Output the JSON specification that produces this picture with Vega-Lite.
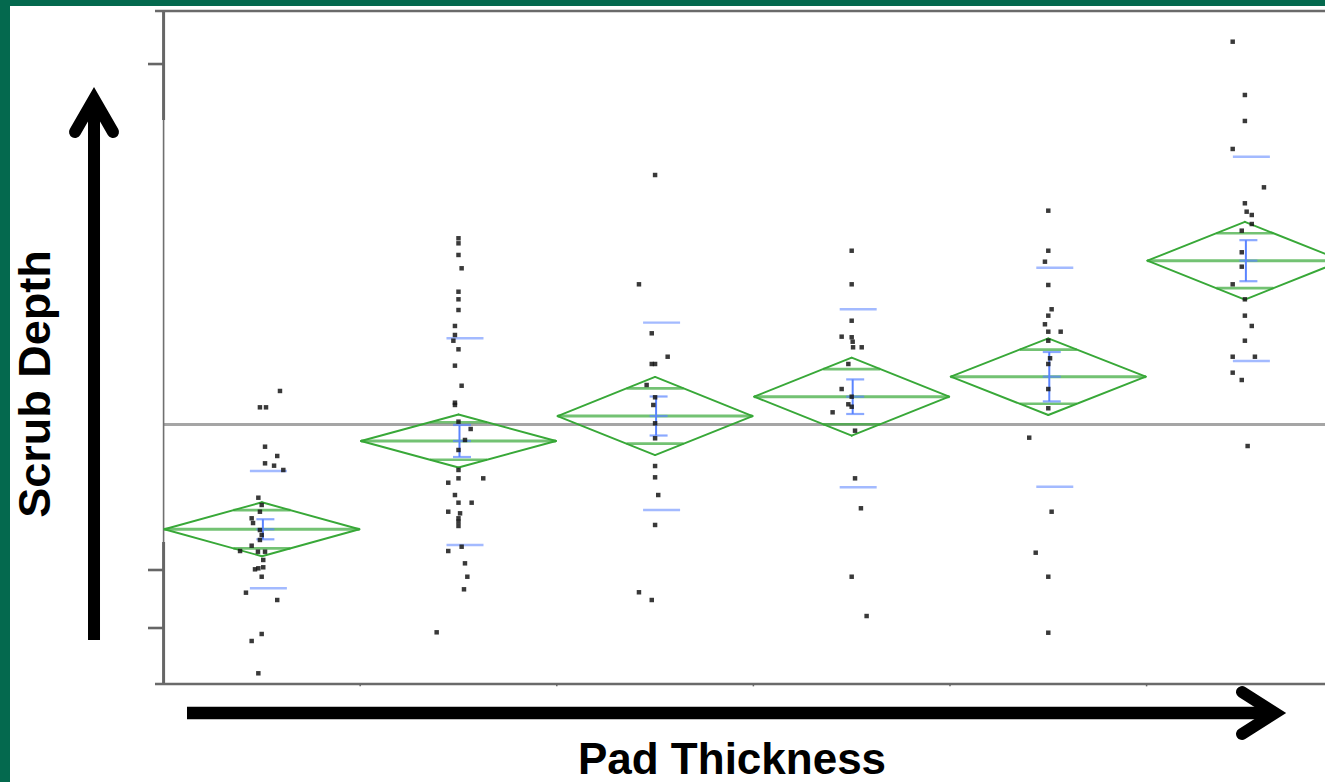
{
  "$schema": "https://vega.github.io/schema/vega-lite/v6.json",
  "width": 1315,
  "height": 776,
  "padding": {"left": 10, "top": 6, "right": 0, "bottom": 0},
  "autosize": {"type": "none"},
  "background": "#04694e",
  "config": {
    "view": {"stroke": null, "fill": "white"},
    "axis": {"disable": true},
    "legend": {"disable": true}
  },
  "datasets": {
    "obs": [
      {"pad": 1, "pos": 1.092, "depth": 43.54}, {"pad": 1, "pos": 0.990, "depth": 41.11}, {"pad": 1, "pos": 1.021, "depth": 41.11},
      {"pad": 1, "pos": 1.016, "depth": 35.26}, {"pad": 1, "pos": 1.078, "depth": 33.88}, {"pad": 1, "pos": 1.016, "depth": 32.79},
      {"pad": 1, "pos": 1.062, "depth": 32.44}, {"pad": 1, "pos": 1.109, "depth": 31.80}, {"pad": 1, "pos": 0.982, "depth": 27.68},
      {"pad": 1, "pos": 0.999, "depth": 26.60}, {"pad": 1, "pos": 0.990, "depth": 25.60}, {"pad": 1, "pos": 0.948, "depth": 24.62},
      {"pad": 1, "pos": 0.955, "depth": 23.92}, {"pad": 1, "pos": 0.990, "depth": 22.88}, {"pad": 1, "pos": 0.999, "depth": 22.14},
      {"pad": 1, "pos": 0.990, "depth": 21.40}, {"pad": 1, "pos": 0.948, "depth": 20.55}, {"pad": 1, "pos": 0.889, "depth": 19.76},
      {"pad": 1, "pos": 0.980, "depth": 19.66}, {"pad": 1, "pos": 1.016, "depth": 19.66}, {"pad": 1, "pos": 1.007, "depth": 18.43},
      {"pad": 1, "pos": 0.982, "depth": 17.19}, {"pad": 1, "pos": 1.007, "depth": 17.34}, {"pad": 1, "pos": 0.965, "depth": 17.04},
      {"pad": 1, "pos": 0.999, "depth": 15.94}, {"pad": 1, "pos": 0.919, "depth": 13.57}, {"pad": 1, "pos": 1.078, "depth": 12.48},
      {"pad": 1, "pos": 0.999, "depth": 7.43}, {"pad": 1, "pos": 0.948, "depth": 6.39}, {"pad": 1, "pos": 0.982, "depth": 1.59},

      {"pad": 2, "pos": 2.000, "depth": 66.23}, {"pad": 2, "pos": 2.000, "depth": 65.48}, {"pad": 2, "pos": 2.000, "depth": 63.75},
      {"pad": 2, "pos": 2.016, "depth": 61.77}, {"pad": 2, "pos": 2.000, "depth": 58.29}, {"pad": 2, "pos": 2.000, "depth": 57.16},
      {"pad": 2, "pos": 2.000, "depth": 55.57}, {"pad": 2, "pos": 1.982, "depth": 53.20}, {"pad": 2, "pos": 1.982, "depth": 51.86},
      {"pad": 2, "pos": 1.974, "depth": 51.01}, {"pad": 2, "pos": 2.000, "depth": 49.73}, {"pad": 2, "pos": 1.982, "depth": 47.30},
      {"pad": 2, "pos": 2.016, "depth": 44.32}, {"pad": 2, "pos": 1.982, "depth": 41.80}, {"pad": 2, "pos": 1.982, "depth": 41.46},
      {"pad": 2, "pos": 2.000, "depth": 38.98}, {"pad": 2, "pos": 2.062, "depth": 37.89}, {"pad": 2, "pos": 2.033, "depth": 36.26},
      {"pad": 2, "pos": 2.000, "depth": 34.77}, {"pad": 2, "pos": 2.000, "depth": 31.80}, {"pad": 2, "pos": 2.000, "depth": 30.56},
      {"pad": 2, "pos": 2.126, "depth": 30.56}, {"pad": 2, "pos": 1.948, "depth": 29.91}, {"pad": 2, "pos": 1.982, "depth": 28.08},
      {"pad": 2, "pos": 2.000, "depth": 26.94}, {"pad": 2, "pos": 2.067, "depth": 26.94}, {"pad": 2, "pos": 1.948, "depth": 25.60},
      {"pad": 2, "pos": 2.008, "depth": 25.36}, {"pad": 2, "pos": 2.000, "depth": 24.62}, {"pad": 2, "pos": 2.000, "depth": 24.12},
      {"pad": 2, "pos": 2.000, "depth": 23.48}, {"pad": 2, "pos": 1.948, "depth": 19.76}, {"pad": 2, "pos": 2.016, "depth": 20.40},
      {"pad": 2, "pos": 2.033, "depth": 17.93}, {"pad": 2, "pos": 2.045, "depth": 15.94}, {"pad": 2, "pos": 2.028, "depth": 14.07},
      {"pad": 2, "pos": 1.889, "depth": 7.68},

      {"pad": 3, "pos": 3.000, "depth": 75.63}, {"pad": 3, "pos": 2.918, "depth": 59.39}, {"pad": 3, "pos": 2.983, "depth": 52.11},
      {"pad": 3, "pos": 3.064, "depth": 48.63}, {"pad": 3, "pos": 2.983, "depth": 47.55}, {"pad": 3, "pos": 3.000, "depth": 47.55},
      {"pad": 3, "pos": 2.957, "depth": 44.43}, {"pad": 3, "pos": 3.000, "depth": 42.60}, {"pad": 3, "pos": 2.991, "depth": 41.46},
      {"pad": 3, "pos": 3.000, "depth": 38.74}, {"pad": 3, "pos": 3.000, "depth": 36.51}, {"pad": 3, "pos": 3.000, "depth": 32.39},
      {"pad": 3, "pos": 3.000, "depth": 30.71}, {"pad": 3, "pos": 3.016, "depth": 28.08}, {"pad": 3, "pos": 3.000, "depth": 23.63},
      {"pad": 3, "pos": 2.918, "depth": 13.63}, {"pad": 3, "pos": 2.983, "depth": 12.48},

      {"pad": 4, "pos": 4.000, "depth": 64.38}, {"pad": 4, "pos": 4.000, "depth": 59.39}, {"pad": 4, "pos": 4.000, "depth": 53.98},
      {"pad": 4, "pos": 3.949, "depth": 51.61}, {"pad": 4, "pos": 4.000, "depth": 51.52}, {"pad": 4, "pos": 4.005, "depth": 50.86},
      {"pad": 4, "pos": 4.007, "depth": 50.03}, {"pad": 4, "pos": 4.051, "depth": 50.03}, {"pad": 4, "pos": 3.983, "depth": 47.55},
      {"pad": 4, "pos": 3.949, "depth": 43.83}, {"pad": 4, "pos": 4.000, "depth": 42.69}, {"pad": 4, "pos": 3.983, "depth": 41.56},
      {"pad": 4, "pos": 4.000, "depth": 41.20}, {"pad": 4, "pos": 3.903, "depth": 40.37}, {"pad": 4, "pos": 4.017, "depth": 37.64},
      {"pad": 4, "pos": 4.017, "depth": 30.56}, {"pad": 4, "pos": 4.047, "depth": 26.11}, {"pad": 4, "pos": 4.000, "depth": 15.94},
      {"pad": 4, "pos": 4.076, "depth": 10.10},

      {"pad": 5, "pos": 5.000, "depth": 70.33}, {"pad": 5, "pos": 5.000, "depth": 64.38}, {"pad": 5, "pos": 4.983, "depth": 62.75},
      {"pad": 5, "pos": 5.000, "depth": 59.29}, {"pad": 5, "pos": 5.017, "depth": 55.68}, {"pad": 5, "pos": 5.000, "depth": 54.73},
      {"pad": 5, "pos": 4.983, "depth": 53.45}, {"pad": 5, "pos": 5.000, "depth": 52.35}, {"pad": 5, "pos": 5.063, "depth": 52.35},
      {"pad": 5, "pos": 5.000, "depth": 51.01}, {"pad": 5, "pos": 5.009, "depth": 48.40}, {"pad": 5, "pos": 5.000, "depth": 47.55},
      {"pad": 5, "pos": 5.000, "depth": 43.83}, {"pad": 5, "pos": 5.000, "depth": 40.97}, {"pad": 5, "pos": 4.903, "depth": 36.60},
      {"pad": 5, "pos": 5.017, "depth": 25.60}, {"pad": 5, "pos": 4.936, "depth": 19.51}, {"pad": 5, "pos": 5.000, "depth": 15.94},
      {"pad": 5, "pos": 5.000, "depth": 7.62},

      {"pad": 6, "pos": 5.938, "depth": 95.44}, {"pad": 6, "pos": 6.000, "depth": 87.52}, {"pad": 6, "pos": 6.000, "depth": 83.66},
      {"pad": 6, "pos": 5.938, "depth": 79.50}, {"pad": 6, "pos": 6.097, "depth": 73.80}, {"pad": 6, "pos": 6.000, "depth": 71.43},
      {"pad": 6, "pos": 6.009, "depth": 70.18}, {"pad": 6, "pos": 6.035, "depth": 69.69}, {"pad": 6, "pos": 6.035, "depth": 68.35},
      {"pad": 6, "pos": 5.984, "depth": 67.36}, {"pad": 6, "pos": 5.984, "depth": 64.15}, {"pad": 6, "pos": 5.984, "depth": 62.01},
      {"pad": 6, "pos": 5.938, "depth": 59.39}, {"pad": 6, "pos": 6.000, "depth": 57.16}, {"pad": 6, "pos": 6.000, "depth": 54.73},
      {"pad": 6, "pos": 6.035, "depth": 53.20}, {"pad": 6, "pos": 6.000, "depth": 51.01}, {"pad": 6, "pos": 5.938, "depth": 48.63},
      {"pad": 6, "pos": 6.051, "depth": 48.63}, {"pad": 6, "pos": 5.938, "depth": 46.26}, {"pad": 6, "pos": 5.984, "depth": 45.17},
      {"pad": 6, "pos": 6.014, "depth": 35.36}
    ],
    "summary": [
      {"pad": 1, "mean": 22.99, "lcl": 18.98, "ucl": 27.00, "ovl_lo": 20.15, "ovl_hi": 25.83, "se_lo": 21.50, "se_hi": 24.48, "sd_lo": 14.22, "sd_hi": 31.65},
      {"pad": 2, "mean": 36.11, "lcl": 32.17, "ucl": 40.05, "ovl_lo": 33.33, "ovl_hi": 38.89, "se_lo": 33.73, "se_hi": 38.49, "sd_lo": 20.65, "sd_hi": 51.37},
      {"pad": 3, "mean": 39.82, "lcl": 34.02, "ucl": 45.62, "ovl_lo": 35.72, "ovl_hi": 43.92, "se_lo": 36.92, "se_hi": 42.72, "sd_lo": 25.85, "sd_hi": 53.69},
      {"pad": 4, "mean": 42.69, "lcl": 36.89, "ucl": 48.49, "ovl_lo": 38.59, "ovl_hi": 46.79, "se_lo": 40.12, "se_hi": 45.26, "sd_lo": 29.23, "sd_hi": 55.68},
      {"pad": 5, "mean": 45.66, "lcl": 39.97, "ucl": 51.35, "ovl_lo": 41.64, "ovl_hi": 49.68, "se_lo": 41.99, "se_hi": 49.33, "sd_lo": 29.32, "sd_hi": 61.86},
      {"pad": 6, "mean": 62.90, "lcl": 57.13, "ucl": 68.67, "ovl_lo": 58.82, "ovl_hi": 66.98, "se_lo": 59.85, "se_hi": 65.95, "sd_lo": 47.99, "sd_hi": 78.35}
    ],
    "yticks": [{"t": 92.12}, {"t": 16.94}, {"t": 8.32}],
    "levelBreaks": [{"b": 1.5}, {"b": 2.5}, {"b": 3.5}, {"b": 4.5}, {"b": 5.5}]
  },
  "layer": [
    {
      "description": "grand mean across all pads",
      "data": {"values": [{}]},
      "mark": {"type": "rule", "stroke": "#a5a5a5", "strokeWidth": 3},
      "encoding": {
        "x": {"datum": 0.5, "type": "quantitative", "scale": {"domain": [-0.2812, 6.4075], "nice": false, "zero": false}},
        "x2": {"datum": 6.5},
        "y": {"datum": 38.56, "type": "quantitative", "scale": {"domain": [-14.562, 100.743], "nice": false, "zero": false}}
      }
    },
    {
      "data": {"values": [{}]},
      "mark": {"type": "rule", "stroke": "#707070", "strokeWidth": 1.6},
      "encoding": {"x": {"datum": 0.5, "type": "quantitative"}, "y": {"datum": 0, "type": "quantitative"}, "y2": {"datum": 100}}
    },
    {
      "data": {"values": [{}]},
      "mark": {"type": "rule", "stroke": "#666666", "strokeWidth": 3},
      "encoding": {"x": {"datum": 0.5, "type": "quantitative"}, "y": {"datum": 83.8, "type": "quantitative"}, "y2": {"datum": 100}}
    },
    {
      "data": {"values": [{}]},
      "mark": {"type": "rule", "stroke": "#666666", "strokeWidth": 3},
      "encoding": {"x": {"datum": 0.5, "type": "quantitative"}, "y": {"datum": 0, "type": "quantitative"}, "y2": {"datum": 21.1}}
    },
    {
      "data": {"values": [{"edge": 100}, {"edge": 0}]},
      "mark": {"type": "rule", "stroke": "#6a6a6a", "strokeWidth": 2.6},
      "encoding": {"x": {"datum": 0.4563, "type": "quantitative"}, "x2": {"datum": 6.5}, "y": {"field": "edge", "type": "quantitative"}}
    },
    {
      "data": {"name": "yticks"},
      "mark": {"type": "rule", "stroke": "#666666", "strokeWidth": 2.6},
      "encoding": {"x": {"datum": 0.4207, "type": "quantitative"}, "x2": {"datum": 0.5}, "y": {"field": "t", "type": "quantitative"}}
    },
    {
      "data": {"name": "levelBreaks"},
      "mark": {"type": "rule", "stroke": "#666666", "strokeWidth": 1.5},
      "encoding": {"x": {"field": "b", "type": "quantitative"}, "y": {"datum": 0, "type": "quantitative"}, "y2": {"datum": -0.35}}
    },
    {
      "description": "means diamonds: upper-left edge",
      "data": {"name": "summary"},
      "mark": {"type": "rule", "stroke": "#38a838", "strokeWidth": 1.9, "strokeCap": "round", "x2Offset": -97.5},
      "encoding": {"x": {"field": "pad", "type": "quantitative"}, "x2": {"field": "pad"}, "y": {"field": "ucl", "type": "quantitative"}, "y2": {"field": "mean"}}
    },
    {
      "data": {"name": "summary"},
      "mark": {"type": "rule", "stroke": "#38a838", "strokeWidth": 1.9, "strokeCap": "round", "x2Offset": 97.5},
      "encoding": {"x": {"field": "pad", "type": "quantitative"}, "x2": {"field": "pad"}, "y": {"field": "ucl", "type": "quantitative"}, "y2": {"field": "mean"}}
    },
    {
      "data": {"name": "summary"},
      "mark": {"type": "rule", "stroke": "#38a838", "strokeWidth": 1.9, "strokeCap": "round", "x2Offset": -97.5},
      "encoding": {"x": {"field": "pad", "type": "quantitative"}, "x2": {"field": "pad"}, "y": {"field": "lcl", "type": "quantitative"}, "y2": {"field": "mean"}}
    },
    {
      "data": {"name": "summary"},
      "mark": {"type": "rule", "stroke": "#38a838", "strokeWidth": 1.9, "strokeCap": "round", "x2Offset": 97.5},
      "encoding": {"x": {"field": "pad", "type": "quantitative"}, "x2": {"field": "pad"}, "y": {"field": "lcl", "type": "quantitative"}, "y2": {"field": "mean"}}
    },
    {
      "description": "group mean line across the diamond",
      "data": {"name": "summary"},
      "mark": {"type": "tick", "orient": "horizontal", "size": 195, "thickness": 3, "color": "#38a838"},
      "encoding": {"x": {"field": "pad", "type": "quantitative"}, "y": {"field": "mean", "type": "quantitative"}}
    },
    {
      "description": "overlap marks",
      "data": {"name": "summary"},
      "mark": {"type": "tick", "orient": "horizontal", "size": 57, "thickness": 2.6, "color": "#38a838"},
      "encoding": {"x": {"field": "pad", "type": "quantitative"}, "y": {"field": "ovl_hi", "type": "quantitative"}}
    },
    {
      "data": {"name": "summary"},
      "mark": {"type": "tick", "orient": "horizontal", "size": 57, "thickness": 2.6, "color": "#38a838"},
      "encoding": {"x": {"field": "pad", "type": "quantitative"}, "y": {"field": "ovl_lo", "type": "quantitative"}}
    },
    {
      "description": "standard deviation lines",
      "data": {"name": "summary"},
      "mark": {"type": "tick", "orient": "horizontal", "size": 37, "thickness": 2.4, "color": "#7c9cff", "xOffset": 6.5},
      "encoding": {"x": {"field": "pad", "type": "quantitative"}, "y": {"field": "sd_hi", "type": "quantitative"}}
    },
    {
      "data": {"name": "summary"},
      "mark": {"type": "tick", "orient": "horizontal", "size": 37, "thickness": 2.4, "color": "#7c9cff", "xOffset": 6.5},
      "encoding": {"x": {"field": "pad", "type": "quantitative"}, "y": {"field": "sd_lo", "type": "quantitative"}}
    },
    {
      "description": "mean error bars",
      "data": {"name": "summary"},
      "mark": {"type": "rule", "stroke": "#5a84ff", "strokeWidth": 2, "xOffset": 1},
      "encoding": {"x": {"field": "pad", "type": "quantitative"}, "y": {"field": "se_lo", "type": "quantitative"}, "y2": {"field": "se_hi"}}
    },
    {
      "data": {"name": "summary"},
      "mark": {"type": "tick", "orient": "horizontal", "size": 18, "thickness": 2.2, "color": "#5a84ff", "xOffset": 3.5},
      "encoding": {"x": {"field": "pad", "type": "quantitative"}, "y": {"field": "se_lo", "type": "quantitative"}}
    },
    {
      "data": {"name": "summary"},
      "mark": {"type": "tick", "orient": "horizontal", "size": 18, "thickness": 2.2, "color": "#5a84ff", "xOffset": 3.5},
      "encoding": {"x": {"field": "pad", "type": "quantitative"}, "y": {"field": "se_hi", "type": "quantitative"}}
    },
    {
      "data": {"name": "summary"},
      "mark": {"type": "tick", "orient": "horizontal", "size": 18, "thickness": 2.2, "color": "#5a84ff", "xOffset": 3.5},
      "encoding": {"x": {"field": "pad", "type": "quantitative"}, "y": {"field": "mean", "type": "quantitative"}}
    },
    {
      "description": "individual scrub depth measurements",
      "data": {"name": "obs"},
      "mark": {"type": "square", "size": 20, "color": "#161616", "opacity": 0.85},
      "encoding": {
        "x": {"field": "pos", "type": "quantitative", "scale": {"domain": [-0.2812, 6.4075], "nice": false, "zero": false}},
        "y": {"field": "depth", "type": "quantitative", "scale": {"domain": [-14.562, 100.743], "nice": false, "zero": false}}
      }
    },
    {
      "description": "vertical arrow shaft",
      "data": {"values": [{}]},
      "mark": {"type": "rule", "stroke": "black", "strokeWidth": 12, "strokeCap": "butt"},
      "encoding": {"x": {"datum": 0.1461, "type": "quantitative"}, "y": {"datum": 6.54, "type": "quantitative"}, "y2": {"datum": 86.2}}
    },
    {
      "data": {"values": [{}]},
      "mark": {"type": "point", "shape": "M -1 1.737 L 0 0 L 1 1.737", "size": 1444, "filled": false, "stroke": "black", "strokeWidth": 12, "strokeCap": "round", "strokeJoin": "miter", "strokeMiterLimit": 10, "opacity": 1},
      "encoding": {"x": {"datum": 0.1461, "type": "quantitative"}, "y": {"datum": 86.92, "type": "quantitative"}}
    },
    {
      "description": "horizontal arrow shaft",
      "data": {"values": [{}]},
      "mark": {"type": "rule", "stroke": "black", "strokeWidth": 12.5, "strokeCap": "butt"},
      "encoding": {"x": {"datum": 0.6191, "type": "quantitative"}, "x2": {"datum": 6.1278}, "y": {"datum": -4.31, "type": "quantitative"}}
    },
    {
      "data": {"values": [{}]},
      "mark": {"type": "point", "shape": "M -1.571 -1 L 0 0 L -1.571 1", "size": 1764, "filled": false, "stroke": "black", "strokeWidth": 12, "strokeCap": "round", "strokeJoin": "miter", "strokeMiterLimit": 10, "opacity": 1},
      "encoding": {"x": {"datum": 6.1532, "type": "quantitative"}, "y": {"datum": -4.31, "type": "quantitative"}}
    },
    {
      "data": {"values": [{"label": "Scrub Depth"}]},
      "mark": {"type": "text", "angle": 270, "font": "Liberation Sans", "fontWeight": "bold", "fontSize": 45, "align": "center", "baseline": "alphabetic", "color": "black"},
      "encoding": {"x": {"datum": -0.0777, "type": "quantitative"}, "y": {"datum": 44.58, "type": "quantitative"}, "text": {"field": "label"}}
    },
    {
      "data": {"values": [{"label": "Pad Thickness"}]},
      "mark": {"type": "text", "font": "Liberation Sans", "fontWeight": "bold", "fontSize": 44, "align": "center", "baseline": "alphabetic", "color": "black"},
      "encoding": {"x": {"datum": 3.3913, "type": "quantitative"}, "y": {"datum": -13.37, "type": "quantitative"}, "text": {"field": "label"}}
    }
  ]
}
